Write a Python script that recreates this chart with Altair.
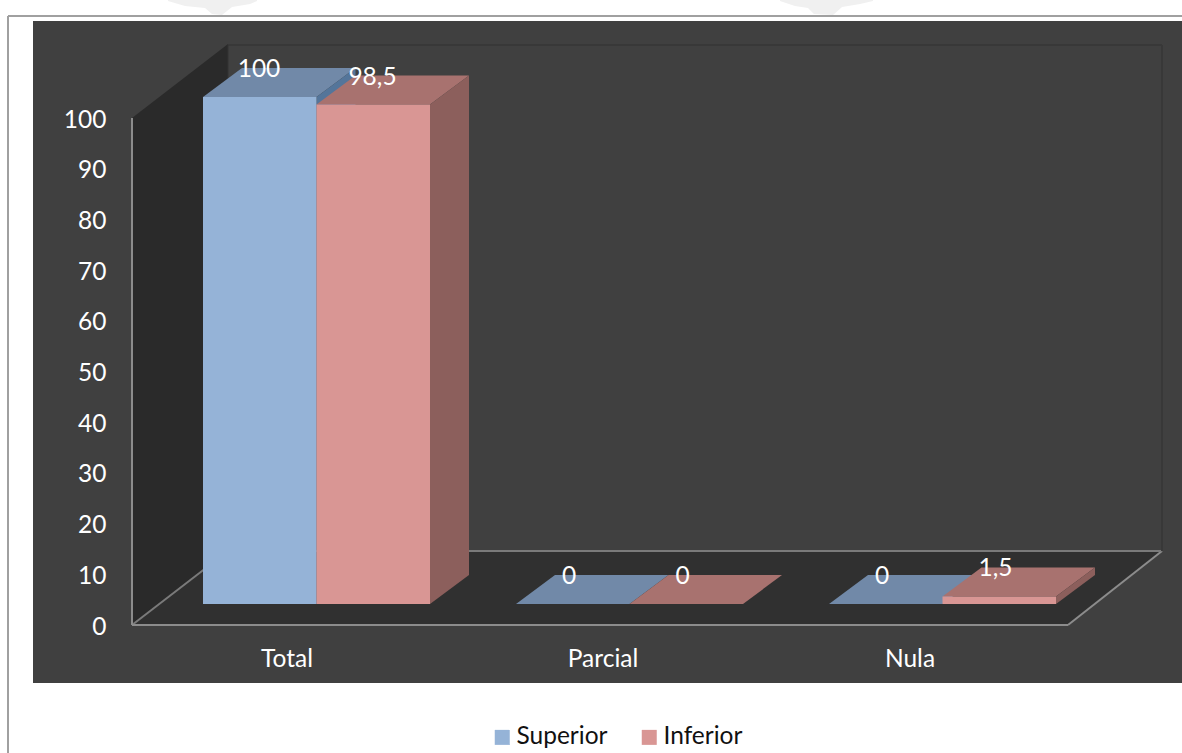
import altair as alt
import pandas as pd

# Chart values
categories = ["Total", "Parcial", "Nula"]
series_names = ["Superior", "Inferior"]
superior = [100, 0, 0]
inferior = [98.5, 0, 1.5]
value_ticks = [0, 10, 20, 30, 40, 50, 60, 70, 80, 90, 100]

# Colours of each bar face and of the box around the plot
front = {"Superior": "#95B3D7", "Inferior": "#D99694"}
top = {"Superior": "#7189A8", "Inferior": "#A8726F"}
side = {"Superior": "#54759A", "Inferior": "#8C5F5C"}
PANEL = "#404040"
LEFT_WALL = "#2A2A2A"
FLOOR = "#303030"
FONT = "Lato"
TEXT_SIZE = 24.5

# Projection of the 3D box on the page
W, H = 1182, 753
Y0_PX, PX_PER_UNIT = 625, 5.07
DEPTH_X, DEPTH_Y = 39, 29 / PX_PER_UNIT
FLOOR_LIFT = 21 / PX_PER_UNIT
BOX_X, BOX_W, BOX_DX = 132, 936, 96
BOX_DY = 74 / PX_PER_UNIT
FIRST_BAR, GROUP_STEP, BAR_W = 203, 313, 113.5
CATEGORY_X = [287, 603, 910]


def units(px):
    """Page row expressed in value-axis units."""
    return (Y0_PX - px) / PX_PER_UNIT


value_axis = alt.Axis(
    values=value_ticks,
    domain=False,
    ticks=False,
    grid=False,
    title=None,
    labelFont=FONT,
    labelFontSize=TEXT_SIZE,
    labelColor="white",
    labelPadding=0,
    labelOffset=2,
    offset=-106,
    zindex=2,
)
x_scale = alt.Scale(domain=[0, W], range=[0, W])
y_scale = alt.Scale(domain=[units(H), units(0)], range=[H, 0], nice=False)
X = alt.X("x:Q", scale=x_scale, axis=None)
Y = alt.Y("y:Q", scale=y_scale, axis=value_axis)


def rect(x0, x1, y0, y1, color):
    return alt.Chart(pd.DataFrame([dict(x=x0, x2=x1, y=y0, y2=y1)])).mark_rect(color=color).encode(
        X, x2="x2:Q", y=Y, y2="y2:Q"
    )


def slanted_top(xl, xr, y_front, y_back, dx, color):
    rows = [dict(y=y_front, x=xl, x2=xr), dict(y=y_back, x=xl + dx, x2=xr + dx)]
    return alt.Chart(pd.DataFrame(rows)).mark_area(orient="horizontal", color=color).encode(
        y=Y, x=X, x2="x2:Q"
    )


def slanted_side(x0, x1, y_low0, y_high0, y_low1, y_high1, color):
    rows = [dict(x=x0, y=y_high0, y2=y_low0), dict(x=x1, y=y_high1, y2=y_low1)]
    return alt.Chart(pd.DataFrame(rows)).mark_area(orient="vertical", color=color).encode(
        x=X, y=Y, y2="y2:Q"
    )


def paper_mark(xs, depths):
    """Faint printed emblem running off the top of the page."""
    rows = [dict(x=x, y=units(d), y2=units(0)) for x, d in zip(xs, depths)]
    return alt.Chart(pd.DataFrame(rows)).mark_area(orient="vertical", color="#F0F0F0").encode(
        x=X, y=Y, y2="y2:Q"
    )


layers = []

layers.append(paper_mark([168, 185, 205, 212, 222, 232, 250, 257], [1, 6, 8, 14, 15, 7, 4, 1]))
layers.append(paper_mark([780, 795, 808, 814, 833, 842, 860, 873], [1, 6, 8, 14, 15, 7, 4, 1]))

# Dark panel, left wall and floor
layers.append(rect(33, W, units(21), units(683), PANEL))
layers.append(slanted_side(BOX_X, BOX_X + BOX_DX, 0, 100, BOX_DY, 100 + BOX_DY, LEFT_WALL))
layers.append(slanted_top(BOX_X, BOX_X + BOX_W, 0, BOX_DY, BOX_DX - 2, FLOOR))

frame_lines = pd.DataFrame(
    [
        dict(x=BOX_X, x2=BOX_X + BOX_DX, y=0, y2=BOX_DY, c="#7A7A7A", w=2),
        dict(x=BOX_X, x2=BOX_X + BOX_W, y=0, y2=0, c="#8C8C8C", w=2),
        dict(x=BOX_X + BOX_W, x2=1162, y=0, y2=BOX_DY, c="#8C8C8C", w=2),
        dict(x=BOX_X + BOX_DX, x2=1162, y=BOX_DY, y2=BOX_DY, c="#7A7A7A", w=2),
        dict(x=BOX_X, x2=BOX_X, y=0, y2=100, c="#8C8C8C", w=2),
        dict(x=BOX_X + BOX_DX, x2=1162, y=units(45), y2=units(45), c="#383838", w=2),
        dict(x=1162, x2=1162, y=units(45), y2=BOX_DY, c="#383838", w=2),
        dict(x=BOX_X + BOX_DX, x2=BOX_X + BOX_DX, y=BOX_DY, y2=units(45), c="#333333", w=1),
        dict(x=8, x2=W, y=units(16), y2=units(16), c="#A0A0A0", w=2),
        dict(x=8, x2=8, y=units(16), y2=units(H), c="#A0A0A0", w=2),
    ]
)
layers.append(
    alt.Chart(frame_lines)
    .mark_rule()
    .encode(
        X,
        x2="x2:Q",
        y=Y,
        y2="y2:Q",
        color=alt.Color("c:N", scale=None),
        strokeWidth=alt.StrokeWidth("w:Q", scale=None),
    )
)

# Bars, painted back to front
label_rows = []
front_rows = []
for i, category in enumerate(categories):
    for s, (name, values) in enumerate(zip(series_names, (superior, inferior))):
        value = values[i]
        xl = FIRST_BAR + GROUP_STEP * i + BAR_W * s
        xr = xl + BAR_W
        base, head = FLOOR_LIFT, FLOOR_LIFT + value
        layers.append(slanted_top(xl, xr, head, head + DEPTH_Y, DEPTH_X, top[name]))
        if value > 0:
            layers.append(
                slanted_side(xr, xr + DEPTH_X, base, head, base + DEPTH_Y, head + DEPTH_Y, side[name])
            )
            front_rows.append(dict(x=xl, x2=xr, y=base, y2=head, serie=name))
        label_rows.append(
            dict(
                x=xl + (56 if i == 0 else 53),
                y=head + DEPTH_Y,
                text=str(value).replace(".", ",").removesuffix(",0"),
            )
        )

legend = alt.Legend(
    title=None,
    orient="none",
    legendX=490,
    legendY=725,
    direction="horizontal",
    symbolType="square",
    symbolSize=225,
    symbolStrokeWidth=0,
    labelFont=FONT,
    labelFontSize=TEXT_SIZE,
    labelColor="#111111",
    labelOffset=2,
    columnPadding=29,
    padding=0,
)
layers.append(
    alt.Chart(pd.DataFrame(front_rows))
    .mark_rect()
    .encode(
        X,
        x2="x2:Q",
        y=Y,
        y2="y2:Q",
        color=alt.Color(
            "serie:N",
            scale=alt.Scale(domain=series_names, range=[front[n] for n in series_names]),
            legend=legend,
        ),
    )
)

# Value labels on the bar tops
layers.append(
    alt.Chart(pd.DataFrame(label_rows))
    .mark_text(font=FONT, fontSize=TEXT_SIZE, color="white", dy=2)
    .encode(X, Y, text="text:N")
)

# Category names under the box
cat_rows = pd.DataFrame([dict(x=x, y=units(660), text=c) for x, c in zip(CATEGORY_X, categories)])
layers.append(
    alt.Chart(cat_rows).mark_text(font=FONT, fontSize=TEXT_SIZE, color="white").encode(X, Y, text="text:N")
)

chart = (
    alt.layer(*layers)
    .properties(width=W, height=H, padding=0, background="white", autosize=alt.AutoSizeParams(type="none"))
    .configure_view(stroke=None)
)

chart.save("out.html", embed_options={"renderer": "svg", "actions": False})
